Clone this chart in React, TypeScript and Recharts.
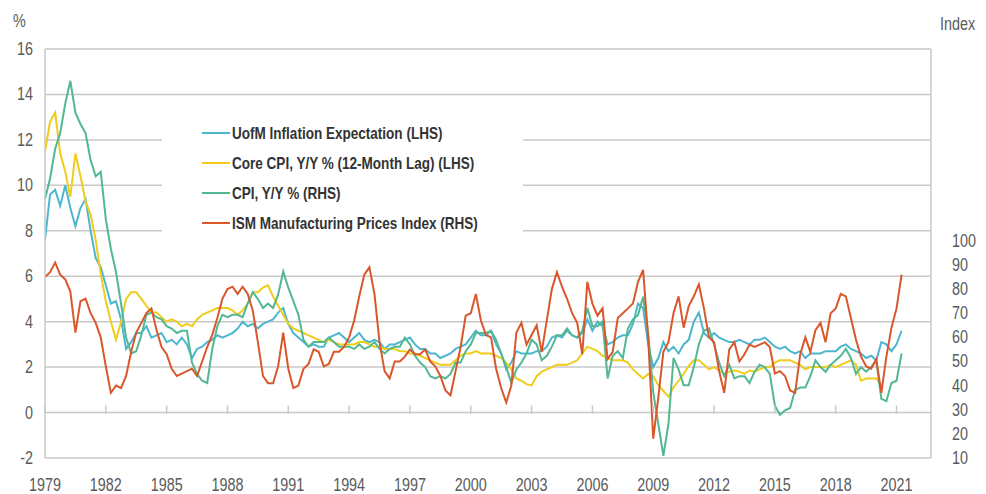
import { LineChart, Line, XAxis, YAxis, CartesianGrid, Legend } from 'recharts'

const START_YEAR = 1979
const yearTicks = [1979, 1982, 1985, 1988, 1991, 1994, 1997, 2000, 2003, 2006, 2009, 2012, 2015, 2018, 2021]
const leftTicks = [-2, 0, 2, 4, 6, 8, 10, 12, 14, 16]
const rightTicks = [10, 20, 30, 40, 50, 60, 70, 80, 90, 100]

// quarterly readings, 1979 Q1 .. 2021 Q2
const uofm = [
  7.6, 9.6, 9.8, 9.1, 10.0, 9.0, 8.2, 9.0, 9.4, 8.0, 6.8, 6.4, 5.6, 4.8, 4.9, 4.1,
  2.8, 3.1, 3.5, 3.5, 3.8, 3.3, 3.4, 3.5, 3.1, 3.2, 3.0, 3.3, 3.0, 2.4, 2.8, 2.9,
  3.1, 3.2, 3.4, 3.3, 3.4, 3.5, 3.7, 4.0, 3.8, 3.9, 3.7, 3.9, 4.0, 4.1, 4.4, 4.6,
  3.9, 3.5, 3.3, 3.1, 2.9, 3.0, 2.9, 2.9, 3.3, 3.4, 3.5, 3.3, 3.1, 3.3, 3.5, 3.2,
  3.1, 3.2, 3.1, 2.8, 3.0, 3.0, 3.1, 3.2, 3.3, 3.0, 2.8, 2.8, 2.6, 2.6, 2.4, 2.5,
  2.6, 2.8, 2.9, 3.0, 3.3, 3.6, 3.4, 3.4, 3.6, 3.0, 2.6, 1.9, 2.2, 2.7, 2.6, 2.6,
  2.6, 2.7, 2.7, 2.9, 3.3, 3.4, 3.3, 3.6, 3.4, 3.3, 3.5, 4.1, 3.6, 4.0, 3.8, 3.0,
  3.1, 3.3, 3.4, 3.4, 3.9, 4.8, 4.6, 3.0, 2.0, 2.4, 3.1, 2.7, 2.9, 2.6, 3.0, 3.2,
  4.0, 4.4, 3.5, 3.3, 3.5, 3.3, 3.2, 3.1, 3.1, 3.2, 3.1, 3.0, 3.2, 3.2, 3.3, 3.1,
  2.9, 2.8, 2.9, 2.7, 2.6, 2.7, 2.4, 2.6, 2.6, 2.6, 2.7, 2.7, 2.7, 2.9, 3.0, 2.8,
  2.7, 2.6, 2.4, 2.5, 2.3, 3.1, 3.0, 2.7, 3.0, 3.6,
]

const coreCpiLag = [
  11.5, 12.8, 13.2, 11.4, 10.6, 9.5, 11.4, 10.4, 9.3, 8.7, 7.6, 6.1, 4.9, 4.0, 3.2, 4.0,
  5.0, 5.3, 5.3, 5.0, 4.7, 4.4, 4.4, 4.2, 4.0, 4.1, 4.0, 3.8, 3.9, 3.8, 4.1, 4.3,
  4.4, 4.5, 4.6, 4.6, 4.6, 4.5, 4.3, 4.5, 4.8, 5.3, 5.3, 5.5, 5.6, 5.1, 4.7, 4.3,
  3.9, 3.7, 3.6, 3.5, 3.4, 3.3, 3.2, 3.1, 3.2, 3.1, 3.0, 3.0, 3.0, 3.0, 3.1, 3.1,
  3.0, 2.9, 2.9, 2.8, 2.8, 2.8, 2.7, 2.7, 2.6, 2.6, 2.5, 2.4, 2.3, 2.2, 2.1, 2.1,
  2.1, 2.3, 2.5, 2.6, 2.6, 2.7, 2.6, 2.6, 2.6, 2.5, 2.4, 2.2, 1.9, 1.5, 1.4, 1.25,
  1.2, 1.6, 1.8, 1.9, 2.0, 2.1, 2.1, 2.1, 2.2, 2.3, 2.6, 2.9, 2.8, 2.7, 2.5, 2.4,
  2.3, 2.3, 2.3, 2.2, 1.9, 1.7, 1.5, 1.7, 1.6, 1.2, 0.95, 0.7, 1.1, 1.4, 1.7, 2.05,
  2.3, 2.3, 2.1, 1.9, 2.0, 1.85, 1.7, 1.8, 1.85, 1.8, 1.7, 1.85, 1.8, 1.9, 2.0, 2.0,
  2.2, 2.3, 2.3, 2.3, 2.2, 2.1, 1.9, 2.0, 2.0, 2.0, 2.0, 2.1, 2.0, 2.1, 2.2, 2.3,
  2.1, 1.4, 1.5, 1.5, 1.5, 1.2,
]

const cpi = [
  9.4, 10.3, 11.6, 12.3, 13.6, 14.6, 13.2, 12.7, 12.3, 11.1, 10.4, 10.6, 8.5, 7.2, 6.2, 4.8,
  3.3, 2.6, 2.7, 3.4, 4.3, 4.4, 4.2, 4.1, 3.8, 3.7, 3.5, 3.6, 3.6, 2.2, 1.7, 1.4,
  1.3, 2.8, 3.8, 4.3, 4.2, 4.3, 4.3, 4.2, 4.8, 5.3, 5.0, 4.6, 4.8, 4.6, 5.2, 6.2,
  5.5, 4.9, 4.3, 3.2, 2.9, 3.1, 3.1, 3.1, 3.3, 3.1, 2.9, 2.9, 2.9, 2.8, 3.0, 2.8,
  2.9, 3.1, 2.8, 2.6, 2.8, 2.9, 2.9, 3.3, 3.0, 2.5, 2.2, 2.0, 1.6, 1.5, 1.6, 1.5,
  1.7, 2.2, 2.2, 2.7, 3.0, 3.5, 3.5, 3.5, 3.6, 3.2, 2.6, 2.0, 1.3, 1.9, 2.2, 2.6,
  3.2, 3.0, 2.3, 2.5, 2.9, 3.4, 3.4, 3.7, 3.4, 3.3, 3.6, 4.6, 3.8, 3.8, 4.0, 1.5,
  2.5, 2.7, 2.4, 3.7, 4.1, 4.3, 5.1, 3.5, 0.9, -0.5, -1.9, -0.5, 2.4, 1.9, 1.2, 1.2,
  2.0, 3.0, 3.6, 3.7, 3.0, 2.2, 1.6, 2.1, 1.5, 1.6, 1.6, 1.3, 1.8, 2.1, 2.0, 1.7,
  0.3, -0.1, 0.1, 0.2, 1.0, 1.1, 1.1, 1.6, 2.3, 2.0, 1.8, 2.1, 2.3, 2.5, 2.8, 2.4,
  1.7, 2.0, 1.8, 2.0, 2.3, 0.6, 0.5, 1.3, 1.4, 2.6,
]

const ismPrices = [
  85, 87, 91, 86, 84, 79, 62, 75, 76, 70, 66, 60, 48, 37, 40, 39,
  44, 54, 62, 66, 70, 72, 63, 56, 53, 47, 44, 45, 46, 47, 44, 50,
  56, 61, 68, 76, 80, 81, 78, 81, 78, 71, 58, 44, 41, 41, 48, 62,
  47, 39, 40, 47, 49, 55, 54, 48, 49, 54, 54, 56, 60, 67, 77, 86,
  89, 78, 58, 46, 43, 50, 50, 52, 55, 53, 53, 55, 50, 48, 44, 38,
  36, 46, 56, 69, 70, 78, 67, 61, 60, 47, 39, 33, 40, 62, 66, 57,
  61, 65, 54, 67, 80, 87, 81, 76, 70, 66, 53, 83, 74, 69, 72, 51,
  54, 68, 70, 72, 74, 83, 88, 60, 18, 35, 54, 58, 70, 77, 64, 73,
  77, 82, 72, 60, 58, 46, 37, 55, 58, 50, 53, 57, 56, 57, 58, 56,
  45, 46, 44, 38, 37, 53, 60, 54, 63, 66, 58, 70, 72, 78, 77, 68,
  59, 52, 48, 47, 51, 37, 52, 64, 72, 86,
]

const data = ismPrices.map((v, i) => ({
  t: START_YEAR + i / 4,
  uofm: uofm[i],
  core: coreCpiLag[i] ?? null,
  cpi: cpi[i],
  ism: v,
}))

const BLUE = '#4db6cf'
const YELLOW = '#f0cc1c'
const GREEN = '#52b893'
const RED = '#d9572b'
const GRID = '#c8c8c8'
const TICK = '#5a5a5a'
const FONT = "'Liberation Sans', Arial, sans-serif"
const NARROW = 0.82 // squeeze to look like Arial Narrow

const legendItems = [
  { label: 'UofM Inflation Expectation (LHS)', color: BLUE },
  { label: 'Core CPI, Y/Y % (12-Month Lag) (LHS)', color: YELLOW },
  { label: 'CPI, Y/Y % (RHS)', color: GREEN },
  { label: 'ISM Manufacturing Prices Index (RHS)', color: RED },
]

const renderLegend = () => (
  <div style={{ background: '#fff', width: '100%', height: '100%', paddingTop: 6, paddingLeft: 40, boxSizing: 'border-box' }}>
    {legendItems.map((item) => (
      <div key={item.label} style={{ display: 'flex', alignItems: 'center', height: 30, whiteSpace: 'nowrap' }}>
        <span style={{ display: 'inline-block', width: 28, height: 2, background: item.color, marginRight: 2, flex: 'none' }} />
        <span
          style={{
            display: 'inline-block',
            fontFamily: FONT,
            fontWeight: 700,
            fontSize: 16.5,
            color: '#333',
            transform: `scaleX(${NARROW})`,
            transformOrigin: 'left center',
          }}
        >
          {item.label}
        </span>
      </div>
    ))}
  </div>
)

// zero line sits 2/18 of the plot height above the bottom (-2)
const PLOT_H = 408.7
const ZERO_OFFSET = (PLOT_H * 2) / 18

const NarrowText = ({ x, y, anchor, children }: any) => (
  <text
    transform={`translate(${x},${y}) scale(${NARROW},1)`}
    textAnchor={anchor}
    fill={TICK}
    fontFamily={FONT}
    fontSize={17.5}
  >
    {children}
  </text>
)

const YearTick = (props: any) => {
  const { x, y, payload } = props
  return (
    <g>
      <line x1={x} x2={x} y1={y - ZERO_OFFSET - 7} y2={y - ZERO_OFFSET + 1} stroke={GRID} strokeWidth={1.5} />
      <NarrowText x={x} y={y + 33} anchor="middle">{payload.value}</NarrowText>
    </g>
  )
}

const LeftTick = (props: any) => (
  <NarrowText x={props.x} y={props.y + 6} anchor="end">{props.payload.value}</NarrowText>
)

const RightTick = (props: any) => (
  <NarrowText x={props.x} y={props.y + 6} anchor="start">{props.payload.value}</NarrowText>
)

export default function App() {
  return (
    <div style={{ position: 'absolute', left: 0, top: 0, width: 986, height: 494, background: '#fff' }}>
      <div style={{ position: 'absolute', left: 13, top: 11, fontFamily: FONT, fontSize: 17.5, color: TICK, transform: `scaleX(${NARROW})`, transformOrigin: 'left top' }}>%</div>
      <div style={{ position: 'absolute', left: 940, top: 14, fontFamily: FONT, fontSize: 17.5, color: TICK, transform: `scaleX(${NARROW})`, transformOrigin: 'left top' }}>Index</div>
      <LineChart width={986} height={494} data={data} margin={{ top: 49, right: 0, bottom: 0, left: 0 }}>
        <CartesianGrid yAxisId="left" vertical={false} stroke={GRID} strokeWidth={1.5} />
        <XAxis
          dataKey="t"
          type="number"
          domain={[1979, 2022.7]}
          ticks={yearTicks}
          interval={0}
          axisLine={false}
          tickLine={false}
          tickSize={0}
          tickMargin={0}
          height={36}
          tick={<YearTick />}
          allowDataOverflow
        />
        <YAxis
          yAxisId="left"
          domain={[-2, 16]}
          ticks={leftTicks}
          interval={0}
          width={45}
          axisLine={{ stroke: GRID, strokeWidth: 1.5 }}
          tickLine={false}
          tickSize={0}
          tickMargin={12}
          tick={<LeftTick />}
        />
        <YAxis
          yAxisId="right"
          orientation="right"
          domain={[10, 179.5]}
          ticks={rightTicks}
          interval={0}
          width={55}
          axisLine={{ stroke: GRID, strokeWidth: 1.5 }}
          tickLine={false}
          tickSize={0}
          tickMargin={21}
          tick={<RightTick />}
        />
        <Legend
          layout="horizontal"
          verticalAlign="middle"
          align="center"
          content={renderLegend}
          wrapperStyle={{ left: 162, top: 112, width: 361, height: 126 }}
        />
        <Line yAxisId="left" type="linear" dataKey="uofm" stroke={BLUE} strokeWidth={2} dot={false} isAnimationActive={false} />
        <Line yAxisId="left" type="linear" dataKey="core" stroke={YELLOW} strokeWidth={2} dot={false} isAnimationActive={false} />
        <Line yAxisId="left" type="linear" dataKey="cpi" stroke={GREEN} strokeWidth={2} dot={false} isAnimationActive={false} />
        <Line yAxisId="right" type="linear" dataKey="ism" stroke={RED} strokeWidth={2} dot={false} isAnimationActive={false} />
      </LineChart>
    </div>
  )
}
